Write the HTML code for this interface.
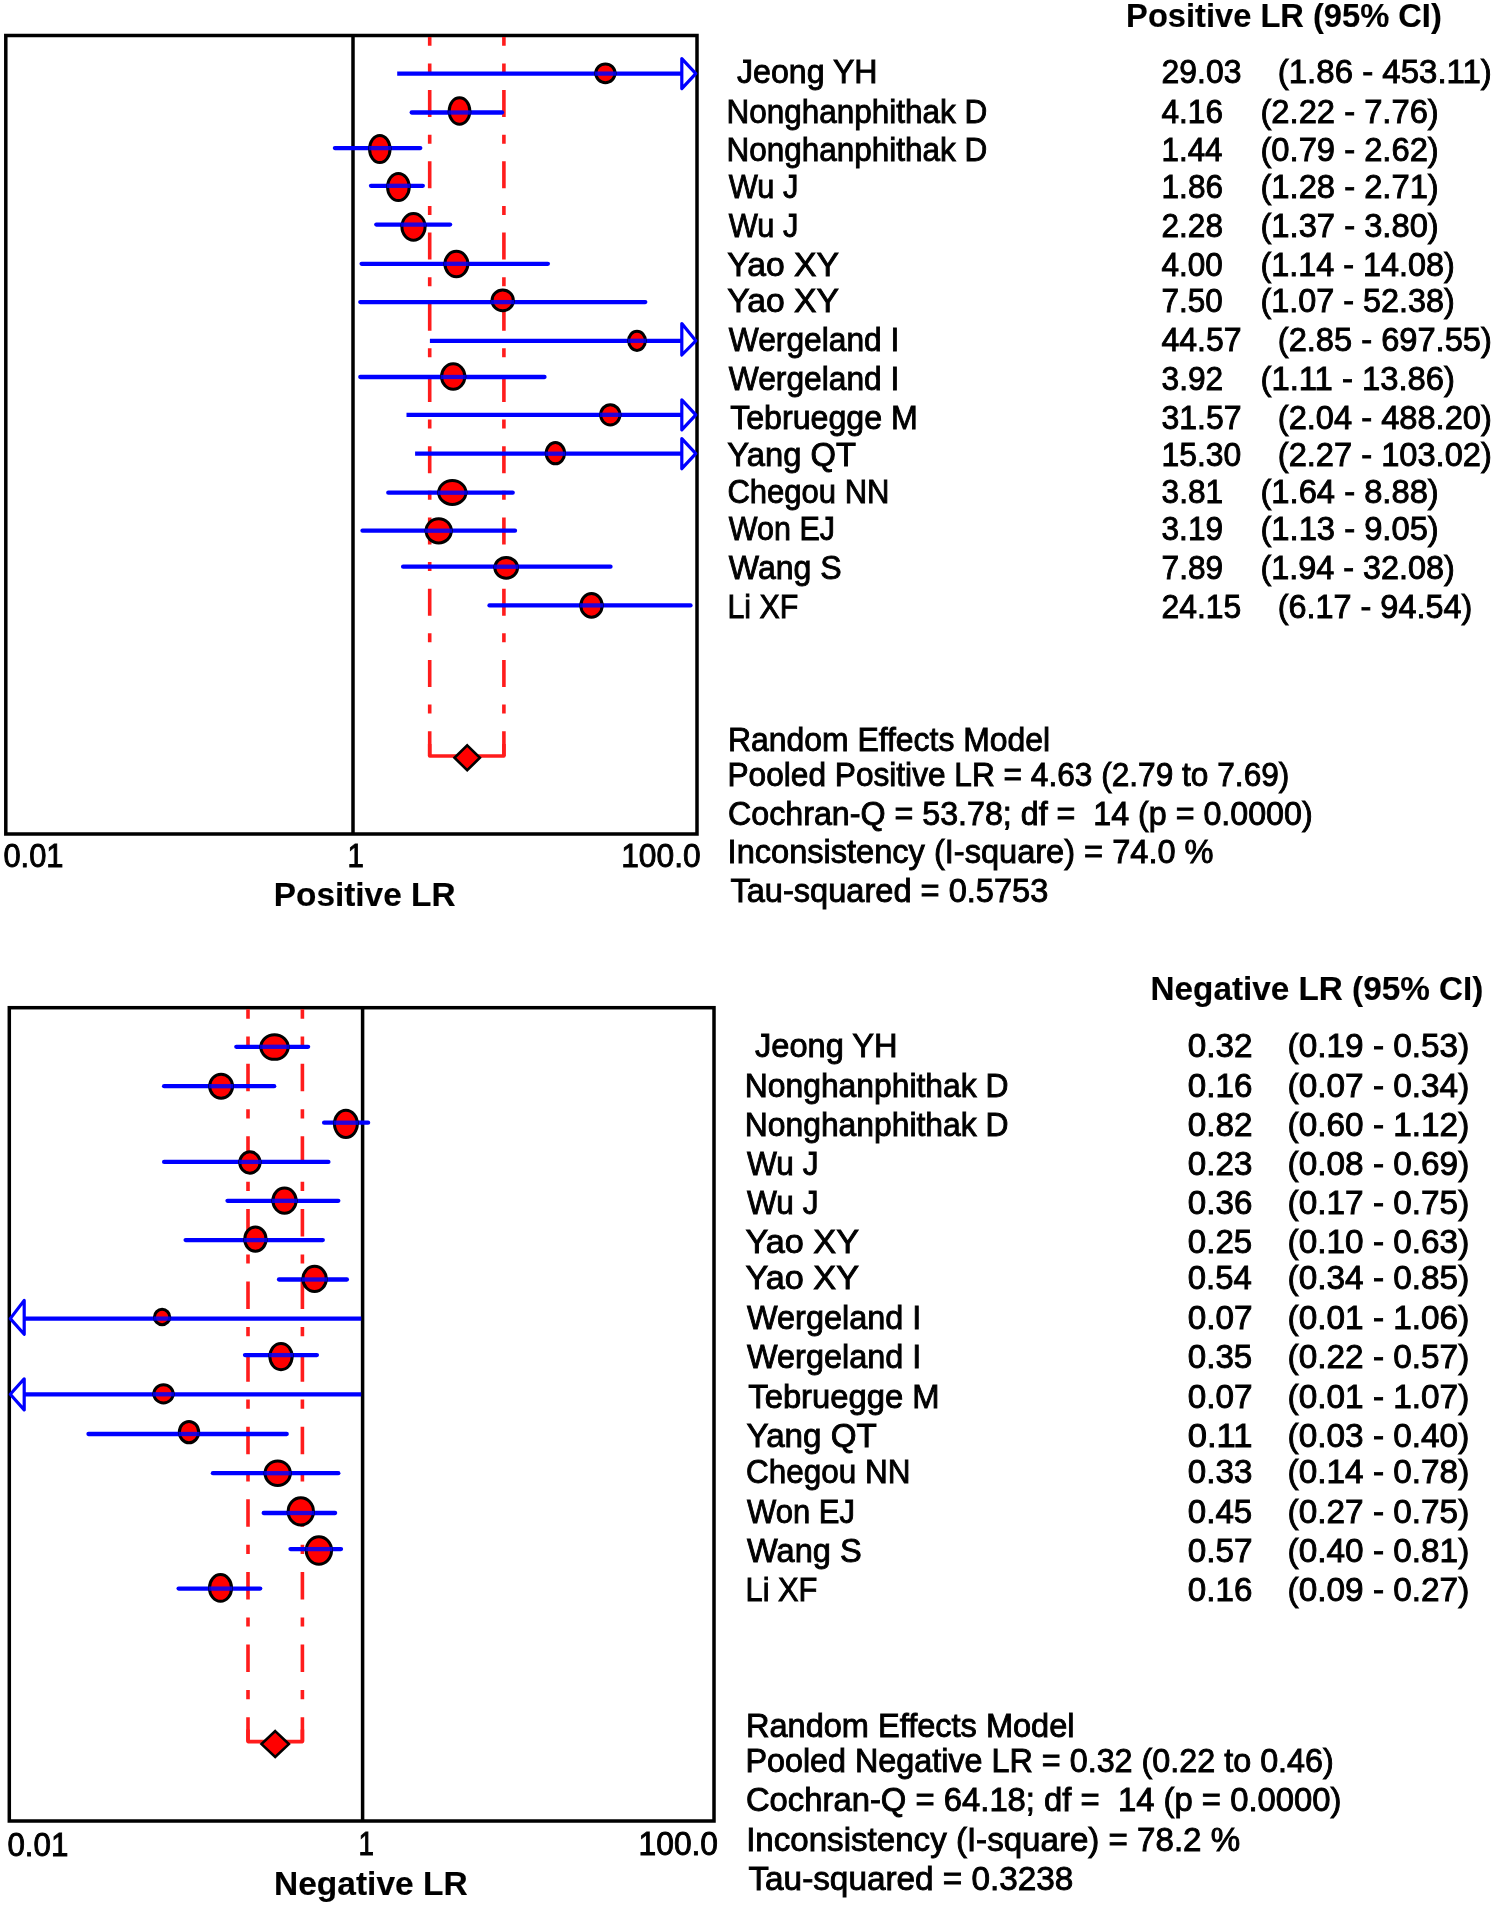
<!DOCTYPE html>
<html><head><meta charset="utf-8"><title>Forest plot</title>
<style>
html,body{margin:0;padding:0;background:#fff;}
body{width:1495px;height:1906px;overflow:hidden;}
svg{display:block;filter:blur(0.6px);}
text{font-family:"Liberation Sans",sans-serif;font-size:32.6px;fill:#000;white-space:pre;stroke:#000;stroke-width:0.9px;}
text[font-weight="bold"]{stroke-width:0.15px;}
</style></head><body>
<svg width="1495" height="1906" viewBox="0 0 1495 1906">
<rect width="1495" height="1906" fill="#fff"/>
<rect x="5.80" y="35.50" width="691.20" height="798.50" fill="none" stroke="#000" stroke-width="3.5"/>
<line x1="353.00" y1="35.50" x2="353.00" y2="834.00" stroke="#000" stroke-width="3.5"/>
<path d="M429.70 37.00 V756.00" stroke="#ff1c1c" stroke-width="3.6" stroke-dasharray="27 17.6 9 17.63" stroke-dashoffset="18.16" fill="none"/>
<path d="M503.90 37.00 V756.00" stroke="#ff1c1c" stroke-width="3.6" stroke-dasharray="27 17.6 9 17.63" stroke-dashoffset="18.16" fill="none"/>
<path d="M429.70 744.00 V756.00 H503.90 V744.00" stroke="#ff1c1c" stroke-width="3.6" fill="none" stroke-linejoin="round"/>
<line x1="397.20" y1="73.60" x2="681.80" y2="73.60" stroke="#0000ff" stroke-width="4.3"/>
<path d="M681.80 58.60 L695.80 73.60 L681.80 88.60 Z" fill="#fff" stroke="#0000ff" stroke-width="3.2" stroke-linejoin="round"/>
<ellipse cx="605.40" cy="73.30" rx="9.65" ry="9.35" fill="#ff0000" stroke="#000" stroke-width="3.0"/>
<line x1="594.75" y1="73.60" x2="616.05" y2="73.60" stroke="#0000ff" stroke-width="4.3" opacity="0.85"/>
<line x1="411.70" y1="112.50" x2="502.00" y2="112.50" stroke="#0000ff" stroke-width="4.3" stroke-linecap="round"/>
<ellipse cx="459.50" cy="111.00" rx="10.35" ry="13.35" fill="#ff0000" stroke="#000" stroke-width="3.0"/>
<line x1="448.15" y1="112.50" x2="470.85" y2="112.50" stroke="#0000ff" stroke-width="4.3" opacity="0.85"/>
<line x1="334.90" y1="148.10" x2="420.30" y2="148.10" stroke="#0000ff" stroke-width="4.3" stroke-linecap="round"/>
<ellipse cx="379.80" cy="149.00" rx="10.25" ry="13.60" fill="#ff0000" stroke="#000" stroke-width="3.0"/>
<line x1="368.55" y1="148.10" x2="391.05" y2="148.10" stroke="#0000ff" stroke-width="4.3" opacity="0.85"/>
<line x1="371.00" y1="185.80" x2="422.80" y2="185.80" stroke="#0000ff" stroke-width="4.3" stroke-linecap="round"/>
<ellipse cx="398.40" cy="187.00" rx="10.85" ry="13.60" fill="#ff0000" stroke="#000" stroke-width="3.0"/>
<line x1="386.55" y1="185.80" x2="410.25" y2="185.80" stroke="#0000ff" stroke-width="4.3" opacity="0.85"/>
<line x1="376.30" y1="224.60" x2="450.10" y2="224.60" stroke="#0000ff" stroke-width="4.3" stroke-linecap="round"/>
<ellipse cx="413.50" cy="226.80" rx="11.60" ry="13.35" fill="#ff0000" stroke="#000" stroke-width="3.0"/>
<line x1="400.90" y1="224.60" x2="426.10" y2="224.60" stroke="#0000ff" stroke-width="4.3" opacity="0.85"/>
<line x1="361.60" y1="263.80" x2="547.90" y2="263.80" stroke="#0000ff" stroke-width="4.3" stroke-linecap="round"/>
<ellipse cx="456.40" cy="264.00" rx="11.45" ry="12.65" fill="#ff0000" stroke="#000" stroke-width="3.0"/>
<line x1="443.95" y1="263.80" x2="468.85" y2="263.80" stroke="#0000ff" stroke-width="4.3" opacity="0.85"/>
<line x1="360.30" y1="302.10" x2="645.30" y2="302.10" stroke="#0000ff" stroke-width="4.3" stroke-linecap="round"/>
<ellipse cx="502.70" cy="300.40" rx="10.65" ry="10.45" fill="#ff0000" stroke="#000" stroke-width="3.0"/>
<line x1="491.05" y1="302.10" x2="514.35" y2="302.10" stroke="#0000ff" stroke-width="4.3" opacity="0.85"/>
<line x1="429.90" y1="340.80" x2="681.80" y2="340.80" stroke="#0000ff" stroke-width="4.3"/>
<path d="M681.80 323.50 L695.80 340.80 L681.80 355.00 Z" fill="#fff" stroke="#0000ff" stroke-width="3.2" stroke-linejoin="round"/>
<ellipse cx="637.00" cy="340.80" rx="8.35" ry="9.60" fill="#ff0000" stroke="#000" stroke-width="3.0"/>
<line x1="627.65" y1="340.80" x2="646.35" y2="340.80" stroke="#0000ff" stroke-width="4.3" opacity="0.85"/>
<line x1="360.30" y1="377.00" x2="544.50" y2="377.00" stroke="#0000ff" stroke-width="4.3" stroke-linecap="round"/>
<ellipse cx="453.20" cy="376.50" rx="11.65" ry="12.85" fill="#ff0000" stroke="#000" stroke-width="3.0"/>
<line x1="440.55" y1="377.00" x2="465.85" y2="377.00" stroke="#0000ff" stroke-width="4.3" opacity="0.85"/>
<line x1="406.50" y1="414.80" x2="681.80" y2="414.80" stroke="#0000ff" stroke-width="4.3"/>
<path d="M681.80 399.80 L695.80 414.80 L681.80 429.80 Z" fill="#fff" stroke="#0000ff" stroke-width="3.2" stroke-linejoin="round"/>
<ellipse cx="610.30" cy="414.80" rx="9.65" ry="10.15" fill="#ff0000" stroke="#000" stroke-width="3.0"/>
<line x1="599.65" y1="414.80" x2="620.95" y2="414.80" stroke="#0000ff" stroke-width="4.3" opacity="0.85"/>
<line x1="415.10" y1="453.70" x2="681.80" y2="453.70" stroke="#0000ff" stroke-width="4.3"/>
<path d="M681.80 438.70 L695.80 453.70 L681.80 468.70 Z" fill="#fff" stroke="#0000ff" stroke-width="3.2" stroke-linejoin="round"/>
<ellipse cx="555.40" cy="453.20" rx="9.15" ry="10.65" fill="#ff0000" stroke="#000" stroke-width="3.0"/>
<line x1="545.25" y1="453.70" x2="565.55" y2="453.70" stroke="#0000ff" stroke-width="4.3" opacity="0.85"/>
<line x1="388.30" y1="492.70" x2="512.70" y2="492.70" stroke="#0000ff" stroke-width="4.3" stroke-linecap="round"/>
<ellipse cx="452.30" cy="492.50" rx="13.65" ry="11.95" fill="#ff0000" stroke="#000" stroke-width="3.0"/>
<line x1="437.65" y1="492.70" x2="466.95" y2="492.70" stroke="#0000ff" stroke-width="4.3" opacity="0.85"/>
<line x1="362.50" y1="530.70" x2="515.00" y2="530.70" stroke="#0000ff" stroke-width="4.3" stroke-linecap="round"/>
<ellipse cx="438.70" cy="530.80" rx="12.65" ry="12.15" fill="#ff0000" stroke="#000" stroke-width="3.0"/>
<line x1="425.05" y1="530.70" x2="452.35" y2="530.70" stroke="#0000ff" stroke-width="4.3" opacity="0.85"/>
<line x1="403.10" y1="566.70" x2="610.50" y2="566.70" stroke="#0000ff" stroke-width="4.3" stroke-linecap="round"/>
<ellipse cx="506.20" cy="567.80" rx="11.35" ry="10.35" fill="#ff0000" stroke="#000" stroke-width="3.0"/>
<line x1="493.85" y1="566.70" x2="518.55" y2="566.70" stroke="#0000ff" stroke-width="4.3" opacity="0.85"/>
<line x1="489.50" y1="605.40" x2="690.50" y2="605.40" stroke="#0000ff" stroke-width="4.3" stroke-linecap="round"/>
<ellipse cx="591.50" cy="605.40" rx="10.65" ry="11.85" fill="#ff0000" stroke="#000" stroke-width="3.0"/>
<line x1="579.85" y1="605.40" x2="603.15" y2="605.40" stroke="#0000ff" stroke-width="4.3" opacity="0.85"/>
<path d="M467.20 745.35 L479.90 757.80 L467.20 770.25 L454.50 757.80 Z" fill="#ff0000" stroke="#000" stroke-width="2.6" stroke-linejoin="miter"/>
<rect x="9.30" y="1007.70" width="704.70" height="813.30" fill="none" stroke="#000" stroke-width="3.5"/>
<line x1="362.60" y1="1007.70" x2="362.60" y2="1821.00" stroke="#000" stroke-width="3.5"/>
<path d="M248.00 1009.20 V1741.60" stroke="#ff1c1c" stroke-width="3.6" stroke-dasharray="27.5 17.95 9.2 17.95" stroke-dashoffset="18.05" fill="none"/>
<path d="M302.40 1009.20 V1741.60" stroke="#ff1c1c" stroke-width="3.6" stroke-dasharray="27.5 17.95 9.2 17.95" stroke-dashoffset="18.05" fill="none"/>
<path d="M248.00 1729.60 V1741.60 H302.40 V1729.60" stroke="#ff1c1c" stroke-width="3.6" fill="none" stroke-linejoin="round"/>
<line x1="236.30" y1="1046.80" x2="308.10" y2="1046.80" stroke="#0000ff" stroke-width="4.3" stroke-linecap="round"/>
<ellipse cx="274.50" cy="1047.10" rx="13.65" ry="12.25" fill="#ff0000" stroke="#000" stroke-width="3.0"/>
<line x1="259.85" y1="1046.80" x2="289.15" y2="1046.80" stroke="#0000ff" stroke-width="4.3" opacity="0.85"/>
<line x1="164.10" y1="1086.20" x2="274.20" y2="1086.20" stroke="#0000ff" stroke-width="4.3" stroke-linecap="round"/>
<ellipse cx="221.10" cy="1086.20" rx="11.45" ry="12.05" fill="#ff0000" stroke="#000" stroke-width="3.0"/>
<line x1="208.65" y1="1086.20" x2="233.55" y2="1086.20" stroke="#0000ff" stroke-width="4.3" opacity="0.85"/>
<line x1="324.10" y1="1122.70" x2="368.10" y2="1122.70" stroke="#0000ff" stroke-width="4.3" stroke-linecap="round"/>
<ellipse cx="345.90" cy="1123.80" rx="11.45" ry="13.60" fill="#ff0000" stroke="#000" stroke-width="3.0"/>
<line x1="333.45" y1="1122.70" x2="358.35" y2="1122.70" stroke="#0000ff" stroke-width="4.3" opacity="0.85"/>
<line x1="164.10" y1="1161.90" x2="328.40" y2="1161.90" stroke="#0000ff" stroke-width="4.3" stroke-linecap="round"/>
<ellipse cx="249.90" cy="1162.50" rx="10.15" ry="10.65" fill="#ff0000" stroke="#000" stroke-width="3.0"/>
<line x1="238.75" y1="1161.90" x2="261.05" y2="1161.90" stroke="#0000ff" stroke-width="4.3" opacity="0.85"/>
<line x1="227.50" y1="1200.80" x2="338.30" y2="1200.80" stroke="#0000ff" stroke-width="4.3" stroke-linecap="round"/>
<ellipse cx="284.50" cy="1200.60" rx="11.65" ry="12.65" fill="#ff0000" stroke="#000" stroke-width="3.0"/>
<line x1="271.85" y1="1200.80" x2="297.15" y2="1200.80" stroke="#0000ff" stroke-width="4.3" opacity="0.85"/>
<line x1="185.60" y1="1240.10" x2="322.80" y2="1240.10" stroke="#0000ff" stroke-width="4.3" stroke-linecap="round"/>
<ellipse cx="255.40" cy="1239.20" rx="10.65" ry="12.15" fill="#ff0000" stroke="#000" stroke-width="3.0"/>
<line x1="243.75" y1="1240.10" x2="267.05" y2="1240.10" stroke="#0000ff" stroke-width="4.3" opacity="0.85"/>
<line x1="279.00" y1="1279.50" x2="346.90" y2="1279.50" stroke="#0000ff" stroke-width="4.3" stroke-linecap="round"/>
<ellipse cx="314.60" cy="1278.90" rx="11.65" ry="12.65" fill="#ff0000" stroke="#000" stroke-width="3.0"/>
<line x1="301.95" y1="1279.50" x2="327.25" y2="1279.50" stroke="#0000ff" stroke-width="4.3" opacity="0.85"/>
<line x1="24.20" y1="1318.60" x2="361.30" y2="1318.60" stroke="#0000ff" stroke-width="4.3"/>
<path d="M24.20 1300.40 L10.30 1318.60 L24.20 1334.20 Z" fill="#fff" stroke="#0000ff" stroke-width="3.2" stroke-linejoin="round"/>
<ellipse cx="162.10" cy="1317.00" rx="7.65" ry="7.65" fill="#ff0000" stroke="#000" stroke-width="3.0"/>
<line x1="153.45" y1="1318.60" x2="170.75" y2="1318.60" stroke="#0000ff" stroke-width="4.3" opacity="0.85"/>
<line x1="245.00" y1="1355.10" x2="316.90" y2="1355.10" stroke="#0000ff" stroke-width="4.3" stroke-linecap="round"/>
<ellipse cx="281.00" cy="1356.60" rx="11.15" ry="13.15" fill="#ff0000" stroke="#000" stroke-width="3.0"/>
<line x1="268.85" y1="1355.10" x2="293.15" y2="1355.10" stroke="#0000ff" stroke-width="4.3" opacity="0.85"/>
<line x1="24.20" y1="1394.30" x2="361.20" y2="1394.30" stroke="#0000ff" stroke-width="4.3"/>
<path d="M24.20 1378.80 L10.30 1394.30 L24.20 1409.90 Z" fill="#fff" stroke="#0000ff" stroke-width="3.2" stroke-linejoin="round"/>
<ellipse cx="163.50" cy="1393.80" rx="9.65" ry="9.15" fill="#ff0000" stroke="#000" stroke-width="3.0"/>
<line x1="152.85" y1="1394.30" x2="174.15" y2="1394.30" stroke="#0000ff" stroke-width="4.3" opacity="0.85"/>
<line x1="88.50" y1="1434.00" x2="286.70" y2="1434.00" stroke="#0000ff" stroke-width="4.3" stroke-linecap="round"/>
<ellipse cx="189.00" cy="1432.10" rx="9.65" ry="10.65" fill="#ff0000" stroke="#000" stroke-width="3.0"/>
<line x1="178.35" y1="1434.00" x2="199.65" y2="1434.00" stroke="#0000ff" stroke-width="4.3" opacity="0.85"/>
<line x1="212.90" y1="1473.20" x2="338.30" y2="1473.20" stroke="#0000ff" stroke-width="4.3" stroke-linecap="round"/>
<ellipse cx="277.70" cy="1473.20" rx="12.65" ry="12.25" fill="#ff0000" stroke="#000" stroke-width="3.0"/>
<line x1="264.05" y1="1473.20" x2="291.35" y2="1473.20" stroke="#0000ff" stroke-width="4.3" opacity="0.85"/>
<line x1="263.70" y1="1513.00" x2="335.10" y2="1513.00" stroke="#0000ff" stroke-width="4.3" stroke-linecap="round"/>
<ellipse cx="300.80" cy="1511.40" rx="12.65" ry="13.65" fill="#ff0000" stroke="#000" stroke-width="3.0"/>
<line x1="287.15" y1="1513.00" x2="314.45" y2="1513.00" stroke="#0000ff" stroke-width="4.3" opacity="0.85"/>
<line x1="290.50" y1="1549.10" x2="341.00" y2="1549.10" stroke="#0000ff" stroke-width="4.3" stroke-linecap="round"/>
<ellipse cx="318.90" cy="1550.50" rx="12.65" ry="13.65" fill="#ff0000" stroke="#000" stroke-width="3.0"/>
<line x1="305.25" y1="1549.10" x2="332.55" y2="1549.10" stroke="#0000ff" stroke-width="4.3" opacity="0.85"/>
<line x1="178.60" y1="1588.60" x2="260.20" y2="1588.60" stroke="#0000ff" stroke-width="4.3" stroke-linecap="round"/>
<ellipse cx="220.50" cy="1587.90" rx="11.05" ry="13.35" fill="#ff0000" stroke="#000" stroke-width="3.0"/>
<line x1="208.45" y1="1588.60" x2="232.55" y2="1588.60" stroke="#0000ff" stroke-width="4.3" opacity="0.85"/>
<path d="M275.20 1731.15 L288.90 1744.10 L275.20 1757.05 L261.50 1744.10 Z" fill="#ff0000" stroke="#000" stroke-width="2.6" stroke-linejoin="miter"/>
<text x="1126.12" y="26.80" font-weight="bold" font-size="32.5" textLength="315.71" lengthAdjust="spacingAndGlyphs">Positive LR (95% CI)</text>
<text x="1150.57" y="999.90" font-weight="bold" font-size="32.5" textLength="332.78" lengthAdjust="spacingAndGlyphs">Negative LR (95% CI)</text>
<text x="737.00" y="82.60" textLength="140.51" lengthAdjust="spacingAndGlyphs">Jeong YH</text>
<text x="755.09" y="1056.60" font-size="33.0" textLength="142.45" lengthAdjust="spacingAndGlyphs">Jeong YH</text>
<text x="1161.53" y="82.60" textLength="79.87" lengthAdjust="spacingAndGlyphs">29.03</text>
<text x="1277.78" y="82.60" textLength="214.05" lengthAdjust="spacingAndGlyphs">(1.86 - 453.11)</text>
<text x="1187.80" y="1056.60" font-size="33.0" textLength="64.77" lengthAdjust="spacingAndGlyphs">0.32</text>
<text x="1287.63" y="1056.60" font-size="33.0" textLength="181.64" lengthAdjust="spacingAndGlyphs">(0.19 - 0.53)</text>
<text x="726.42" y="122.90" textLength="260.79" lengthAdjust="spacingAndGlyphs">Nonghanphithak D</text>
<text x="744.79" y="1096.90" font-size="33.0" textLength="263.74" lengthAdjust="spacingAndGlyphs">Nonghanphithak D</text>
<text x="1161.52" y="122.90" textLength="61.46" lengthAdjust="spacingAndGlyphs">4.16</text>
<text x="1260.47" y="122.90" textLength="178.26" lengthAdjust="spacingAndGlyphs">(2.22 - 7.76)</text>
<text x="1187.80" y="1096.90" font-size="33.0" textLength="64.55" lengthAdjust="spacingAndGlyphs">0.16</text>
<text x="1287.63" y="1096.90" font-size="33.0" textLength="181.64" lengthAdjust="spacingAndGlyphs">(0.07 - 0.34)</text>
<text x="726.42" y="161.30" textLength="260.79" lengthAdjust="spacingAndGlyphs">Nonghanphithak D</text>
<text x="744.79" y="1136.30" font-size="33.0" textLength="263.74" lengthAdjust="spacingAndGlyphs">Nonghanphithak D</text>
<text x="1161.60" y="161.30" textLength="60.92" lengthAdjust="spacingAndGlyphs">1.44</text>
<text x="1260.47" y="161.30" textLength="178.26" lengthAdjust="spacingAndGlyphs">(0.79 - 2.62)</text>
<text x="1187.80" y="1136.30" font-size="33.0" textLength="64.77" lengthAdjust="spacingAndGlyphs">0.82</text>
<text x="1287.63" y="1136.30" font-size="33.0" textLength="181.64" lengthAdjust="spacingAndGlyphs">(0.60 - 1.12)</text>
<text x="728.87" y="197.70" textLength="69.60" lengthAdjust="spacingAndGlyphs">Wu J</text>
<text x="747.06" y="1175.10" font-size="33.0" textLength="71.47" lengthAdjust="spacingAndGlyphs">Wu J</text>
<text x="1161.58" y="197.70" textLength="61.41" lengthAdjust="spacingAndGlyphs">1.86</text>
<text x="1260.47" y="197.70" textLength="178.26" lengthAdjust="spacingAndGlyphs">(1.28 - 2.71)</text>
<text x="1187.80" y="1175.10" font-size="33.0" textLength="64.55" lengthAdjust="spacingAndGlyphs">0.23</text>
<text x="1287.63" y="1175.10" font-size="33.0" textLength="181.64" lengthAdjust="spacingAndGlyphs">(0.08 - 0.69)</text>
<text x="728.87" y="236.60" textLength="69.60" lengthAdjust="spacingAndGlyphs">Wu J</text>
<text x="747.06" y="1214.00" font-size="33.0" textLength="71.47" lengthAdjust="spacingAndGlyphs">Wu J</text>
<text x="1161.55" y="236.60" textLength="61.42" lengthAdjust="spacingAndGlyphs">2.28</text>
<text x="1260.47" y="236.60" textLength="178.26" lengthAdjust="spacingAndGlyphs">(1.37 - 3.80)</text>
<text x="1187.80" y="1214.00" font-size="33.0" textLength="64.55" lengthAdjust="spacingAndGlyphs">0.36</text>
<text x="1287.63" y="1214.00" font-size="33.0" textLength="181.64" lengthAdjust="spacingAndGlyphs">(0.17 - 0.75)</text>
<text x="727.38" y="276.00" textLength="111.65" lengthAdjust="spacingAndGlyphs">Yao XY</text>
<text x="745.46" y="1252.50" font-size="33.0" textLength="113.57" lengthAdjust="spacingAndGlyphs">Yao XY</text>
<text x="1161.53" y="276.00" textLength="61.31" lengthAdjust="spacingAndGlyphs">4.00</text>
<text x="1260.49" y="276.00" textLength="194.42" lengthAdjust="spacingAndGlyphs">(1.14 - 14.08)</text>
<text x="1187.81" y="1252.50" font-size="33.0" textLength="64.49" lengthAdjust="spacingAndGlyphs">0.25</text>
<text x="1287.63" y="1252.50" font-size="33.0" textLength="181.64" lengthAdjust="spacingAndGlyphs">(0.10 - 0.63)</text>
<text x="727.38" y="311.90" textLength="111.65" lengthAdjust="spacingAndGlyphs">Yao XY</text>
<text x="745.46" y="1288.90" font-size="33.0" textLength="113.57" lengthAdjust="spacingAndGlyphs">Yao XY</text>
<text x="1161.56" y="311.90" textLength="61.27" lengthAdjust="spacingAndGlyphs">7.50</text>
<text x="1260.49" y="311.90" textLength="194.42" lengthAdjust="spacingAndGlyphs">(1.07 - 52.38)</text>
<text x="1187.81" y="1288.90" font-size="33.0" textLength="64.05" lengthAdjust="spacingAndGlyphs">0.54</text>
<text x="1287.63" y="1288.90" font-size="33.0" textLength="181.64" lengthAdjust="spacingAndGlyphs">(0.34 - 0.85)</text>
<text x="728.86" y="350.80" textLength="170.46" lengthAdjust="spacingAndGlyphs">Wergeland I</text>
<text x="747.06" y="1328.80" font-size="33.0" textLength="174.22" lengthAdjust="spacingAndGlyphs">Wergeland I</text>
<text x="1161.51" y="350.80" textLength="80.10" lengthAdjust="spacingAndGlyphs">44.57</text>
<text x="1277.78" y="350.80" textLength="214.05" lengthAdjust="spacingAndGlyphs">(2.85 - 697.55)</text>
<text x="1187.80" y="1328.80" font-size="33.0" textLength="64.77" lengthAdjust="spacingAndGlyphs">0.07</text>
<text x="1287.63" y="1328.80" font-size="33.0" textLength="181.64" lengthAdjust="spacingAndGlyphs">(0.01 - 1.06)</text>
<text x="728.86" y="389.70" textLength="170.46" lengthAdjust="spacingAndGlyphs">Wergeland I</text>
<text x="747.06" y="1368.10" font-size="33.0" textLength="174.22" lengthAdjust="spacingAndGlyphs">Wergeland I</text>
<text x="1161.54" y="389.70" textLength="61.66" lengthAdjust="spacingAndGlyphs">3.92</text>
<text x="1260.49" y="389.70" textLength="194.42" lengthAdjust="spacingAndGlyphs">(1.11 - 13.86)</text>
<text x="1187.81" y="1368.10" font-size="33.0" textLength="64.49" lengthAdjust="spacingAndGlyphs">0.35</text>
<text x="1287.63" y="1368.10" font-size="33.0" textLength="181.64" lengthAdjust="spacingAndGlyphs">(0.22 - 0.57)</text>
<text x="730.19" y="428.50" textLength="187.49" lengthAdjust="spacingAndGlyphs">Tebruegge M</text>
<text x="748.28" y="1407.50" font-size="33.0" textLength="191.36" lengthAdjust="spacingAndGlyphs">Tebruegge M</text>
<text x="1161.52" y="428.50" textLength="80.09" lengthAdjust="spacingAndGlyphs">31.57</text>
<text x="1277.78" y="428.50" textLength="214.05" lengthAdjust="spacingAndGlyphs">(2.04 - 488.20)</text>
<text x="1187.80" y="1407.50" font-size="33.0" textLength="64.77" lengthAdjust="spacingAndGlyphs">0.07</text>
<text x="1287.63" y="1407.50" font-size="33.0" textLength="181.64" lengthAdjust="spacingAndGlyphs">(0.01 - 1.07)</text>
<text x="727.39" y="466.00" textLength="128.54" lengthAdjust="spacingAndGlyphs">Yang QT</text>
<text x="746.48" y="1446.50" font-size="33.0" textLength="130.36" lengthAdjust="spacingAndGlyphs">Yang QT</text>
<text x="1161.56" y="466.00" textLength="79.69" lengthAdjust="spacingAndGlyphs">15.30</text>
<text x="1277.78" y="466.00" textLength="214.05" lengthAdjust="spacingAndGlyphs">(2.27 - 103.02)</text>
<text x="1187.80" y="1446.50" font-size="33.0" textLength="64.72" lengthAdjust="spacingAndGlyphs">0.11</text>
<text x="1287.63" y="1446.50" font-size="33.0" textLength="181.64" lengthAdjust="spacingAndGlyphs">(0.03 - 0.40)</text>
<text x="727.42" y="502.50" textLength="162.11" lengthAdjust="spacingAndGlyphs">Chegou NN</text>
<text x="746.10" y="1483.00" font-size="33.0" textLength="164.47" lengthAdjust="spacingAndGlyphs">Chegou NN</text>
<text x="1161.54" y="502.50" textLength="61.61" lengthAdjust="spacingAndGlyphs">3.81</text>
<text x="1260.47" y="502.50" textLength="178.26" lengthAdjust="spacingAndGlyphs">(1.64 - 8.88)</text>
<text x="1187.80" y="1483.00" font-size="33.0" textLength="64.55" lengthAdjust="spacingAndGlyphs">0.33</text>
<text x="1287.63" y="1483.00" font-size="33.0" textLength="181.64" lengthAdjust="spacingAndGlyphs">(0.14 - 0.78)</text>
<text x="728.87" y="540.30" textLength="106.08" lengthAdjust="spacingAndGlyphs">Won EJ</text>
<text x="747.06" y="1522.80" font-size="33.0" textLength="107.92" lengthAdjust="spacingAndGlyphs">Won EJ</text>
<text x="1161.54" y="540.30" textLength="61.56" lengthAdjust="spacingAndGlyphs">3.19</text>
<text x="1260.47" y="540.30" textLength="178.26" lengthAdjust="spacingAndGlyphs">(1.13 - 9.05)</text>
<text x="1187.81" y="1522.80" font-size="33.0" textLength="64.49" lengthAdjust="spacingAndGlyphs">0.45</text>
<text x="1287.63" y="1522.80" font-size="33.0" textLength="181.64" lengthAdjust="spacingAndGlyphs">(0.27 - 0.75)</text>
<text x="728.86" y="579.20" textLength="112.79" lengthAdjust="spacingAndGlyphs">Wang S</text>
<text x="747.06" y="1561.60" font-size="33.0" textLength="114.62" lengthAdjust="spacingAndGlyphs">Wang S</text>
<text x="1161.55" y="579.20" textLength="61.55" lengthAdjust="spacingAndGlyphs">7.89</text>
<text x="1260.49" y="579.20" textLength="194.42" lengthAdjust="spacingAndGlyphs">(1.94 - 32.08)</text>
<text x="1187.80" y="1561.60" font-size="33.0" textLength="64.77" lengthAdjust="spacingAndGlyphs">0.57</text>
<text x="1287.63" y="1561.60" font-size="33.0" textLength="181.64" lengthAdjust="spacingAndGlyphs">(0.40 - 0.81)</text>
<text x="727.51" y="618.10" textLength="70.80" lengthAdjust="spacingAndGlyphs">Li XF</text>
<text x="745.57" y="1600.60" font-size="33.0" textLength="71.86" lengthAdjust="spacingAndGlyphs">Li XF</text>
<text x="1161.54" y="618.10" textLength="79.80" lengthAdjust="spacingAndGlyphs">24.15</text>
<text x="1277.79" y="618.10" textLength="194.42" lengthAdjust="spacingAndGlyphs">(6.17 - 94.54)</text>
<text x="1187.80" y="1600.60" font-size="33.0" textLength="64.55" lengthAdjust="spacingAndGlyphs">0.16</text>
<text x="1287.63" y="1600.60" font-size="33.0" textLength="181.64" lengthAdjust="spacingAndGlyphs">(0.09 - 0.27)</text>
<text x="727.99" y="751.40" textLength="322.14" lengthAdjust="spacingAndGlyphs">Random Effects Model</text>
<text x="745.93" y="1736.90" font-size="33.0" textLength="328.64" lengthAdjust="spacingAndGlyphs">Random Effects Model</text>
<text x="727.51" y="786.20" textLength="561.86" lengthAdjust="spacingAndGlyphs">Pooled Positive LR = 4.63 (2.79 to 7.69)</text>
<text x="745.45" y="1772.20" font-size="33.0" textLength="588.35" lengthAdjust="spacingAndGlyphs">Pooled Negative LR = 0.32 (0.22 to 0.46)</text>
<text x="727.96" y="824.80" textLength="584.73" lengthAdjust="spacingAndGlyphs">Cochran-Q = 53.78; df =  14 (p = 0.0000)</text>
<text x="745.93" y="1811.40" font-size="33.0" textLength="595.50" lengthAdjust="spacingAndGlyphs">Cochran-Q = 64.18; df =  14 (p = 0.0000)</text>
<text x="727.59" y="863.20" textLength="485.97" lengthAdjust="spacingAndGlyphs">Inconsistency (I-square) = 74.0 %</text>
<text x="746.15" y="1850.90" font-size="33.0" textLength="494.03" lengthAdjust="spacingAndGlyphs">Inconsistency (I-square) = 78.2 %</text>
<text x="730.48" y="901.80" textLength="317.84" lengthAdjust="spacingAndGlyphs">Tau-squared = 0.5753</text>
<text x="748.46" y="1890.00" font-size="33.0" textLength="324.87" lengthAdjust="spacingAndGlyphs">Tau-squared = 0.3238</text>
<text x="3.39" y="867.30" textLength="60.11" lengthAdjust="spacingAndGlyphs">0.01</text>
<text x="347.56" y="867.30" textLength="16.38" lengthAdjust="spacingAndGlyphs">1</text>
<text x="621.18" y="867.30" textLength="79.46" lengthAdjust="spacingAndGlyphs">100.0</text>
<text x="273.77" y="905.50" font-weight="bold" font-size="32.5" textLength="181.72" lengthAdjust="spacingAndGlyphs">Positive LR</text>
<text x="7.38" y="1855.60" font-size="33.0" textLength="60.95" lengthAdjust="spacingAndGlyphs">0.01</text>
<text x="358.48" y="1855.20" font-size="33.0" textLength="15.48" lengthAdjust="spacingAndGlyphs">1</text>
<text x="638.58" y="1855.20" font-size="33.0" textLength="79.46" lengthAdjust="spacingAndGlyphs">100.0</text>
<text x="274.06" y="1894.80" font-weight="bold" font-size="32.5" textLength="193.53" lengthAdjust="spacingAndGlyphs">Negative LR</text>
</svg>
</body></html>
